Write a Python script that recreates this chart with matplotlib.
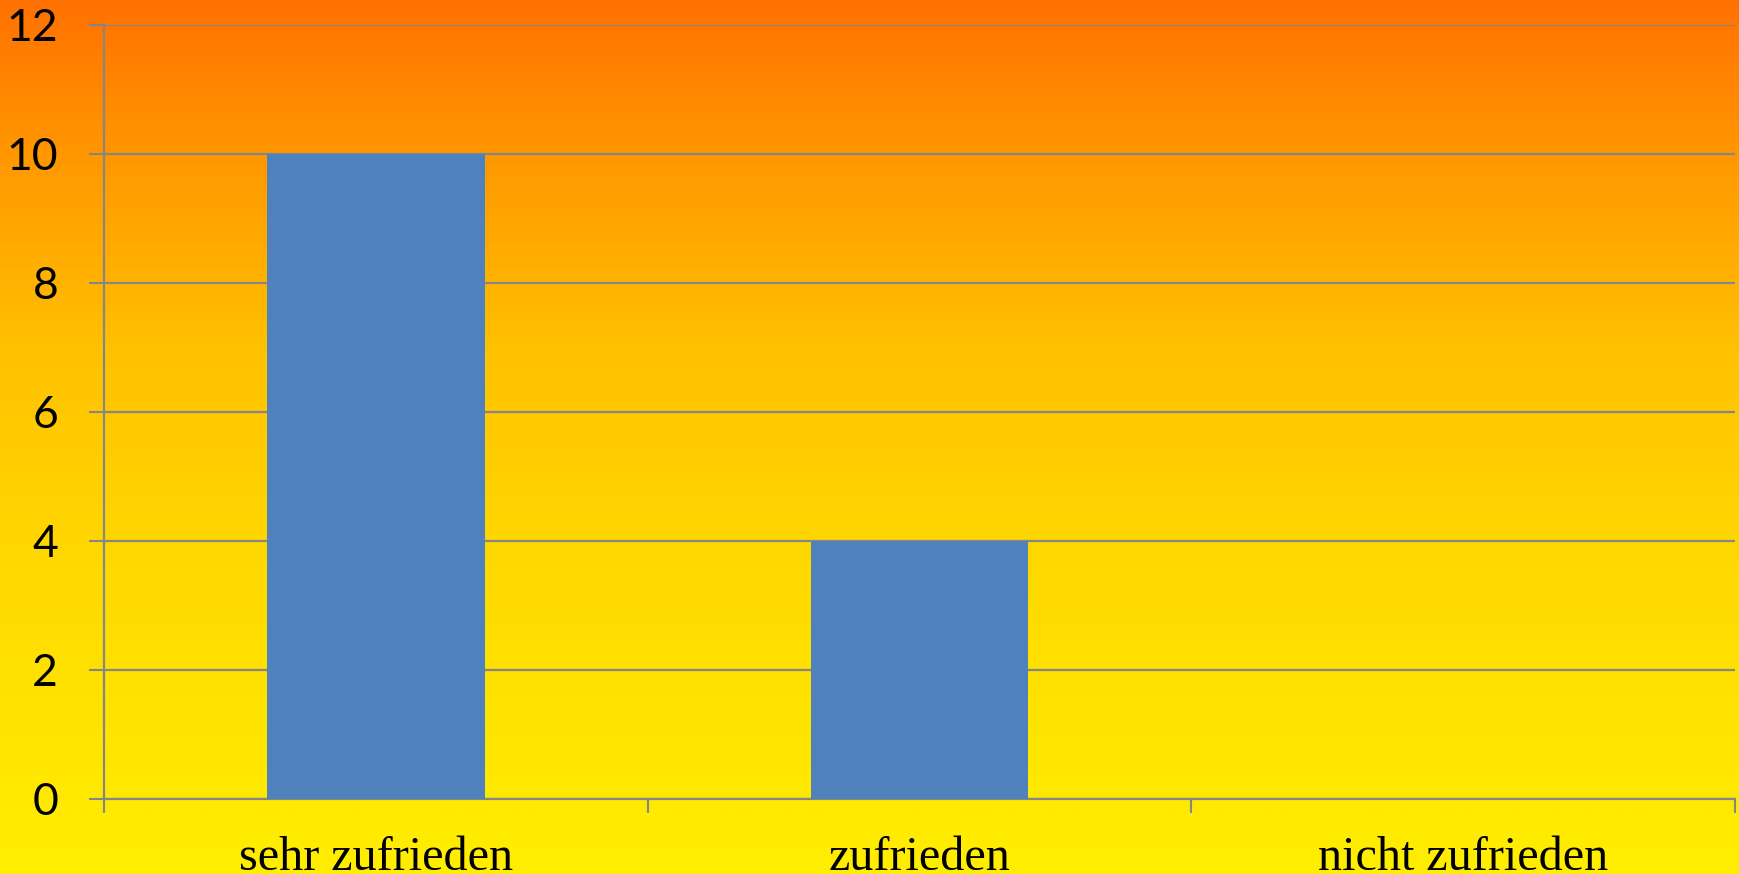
import numpy as np
import matplotlib
matplotlib.use('Agg')
import matplotlib.pyplot as plt
from matplotlib.colors import LinearSegmentedColormap

# Daten
categories = ['sehr zufrieden', 'zufrieden', 'nicht zufrieden']
values = [10, 4, 0]
y_ticks = [0, 2, 4, 6, 8, 10, 12]

bar_color = '#4F81BD'
grid_color = '#868686'

fig = plt.figure(figsize=(17.39, 8.74), dpi=100)

# Hintergrund: Verlauf orange -> gelb
bg = fig.add_axes([0, 0, 1, 1], zorder=0)
cmap = LinearSegmentedColormap.from_list('bg', [
    (0.0, '#FF7100'),
    (0.18, '#FF9800'),
    (0.40, '#FFC100'),
    (0.65, '#FFD900'),
    (1.0, '#FFEE00'),
])
grad = np.linspace(0, 1, 512).reshape(-1, 1)
bg.imshow(grad, aspect='auto', cmap=cmap, extent=[0, 1, 1, 0])
bg.set_axis_off()

ax = fig.add_axes([104 / 1739, 1 - 798.5 / 874, 1631 / 1739, 774 / 874], zorder=1)
ax.patch.set_alpha(0)

x = np.arange(len(categories))
ax.bar(x, values, width=0.4, color=bar_color, zorder=3)

ax.set_xlim(-0.5, len(categories) - 0.5)
ax.set_ylim(0, 12)
ax.set_yticks(y_ticks)
ax.set_yticklabels([str(v) for v in y_ticks], fontfamily='Lato', fontsize=32)
ax.set_xticks(x)
ax.set_xticklabels(categories, fontfamily='Liberation Serif', fontsize=34.7)
ax.set_xticks(np.arange(len(categories) + 1) - 0.5, minor=True)

ax.tick_params(axis='x', which='major', length=0, pad=27)
ax.tick_params(axis='x', which='minor', length=10, width=1.5, color=grid_color)
ax.tick_params(axis='y', length=11, width=1.5, color=grid_color, pad=22)

ax.grid(axis='y', color=grid_color, linewidth=1.6, zorder=1)
ax.set_axisbelow(True)
for side in ['top', 'right']:
    ax.spines[side].set_visible(False)
for side in ['left', 'bottom']:
    ax.spines[side].set_color(grid_color)
    ax.spines[side].set_linewidth(1.6)

fig.savefig('out.png', dpi=100)
